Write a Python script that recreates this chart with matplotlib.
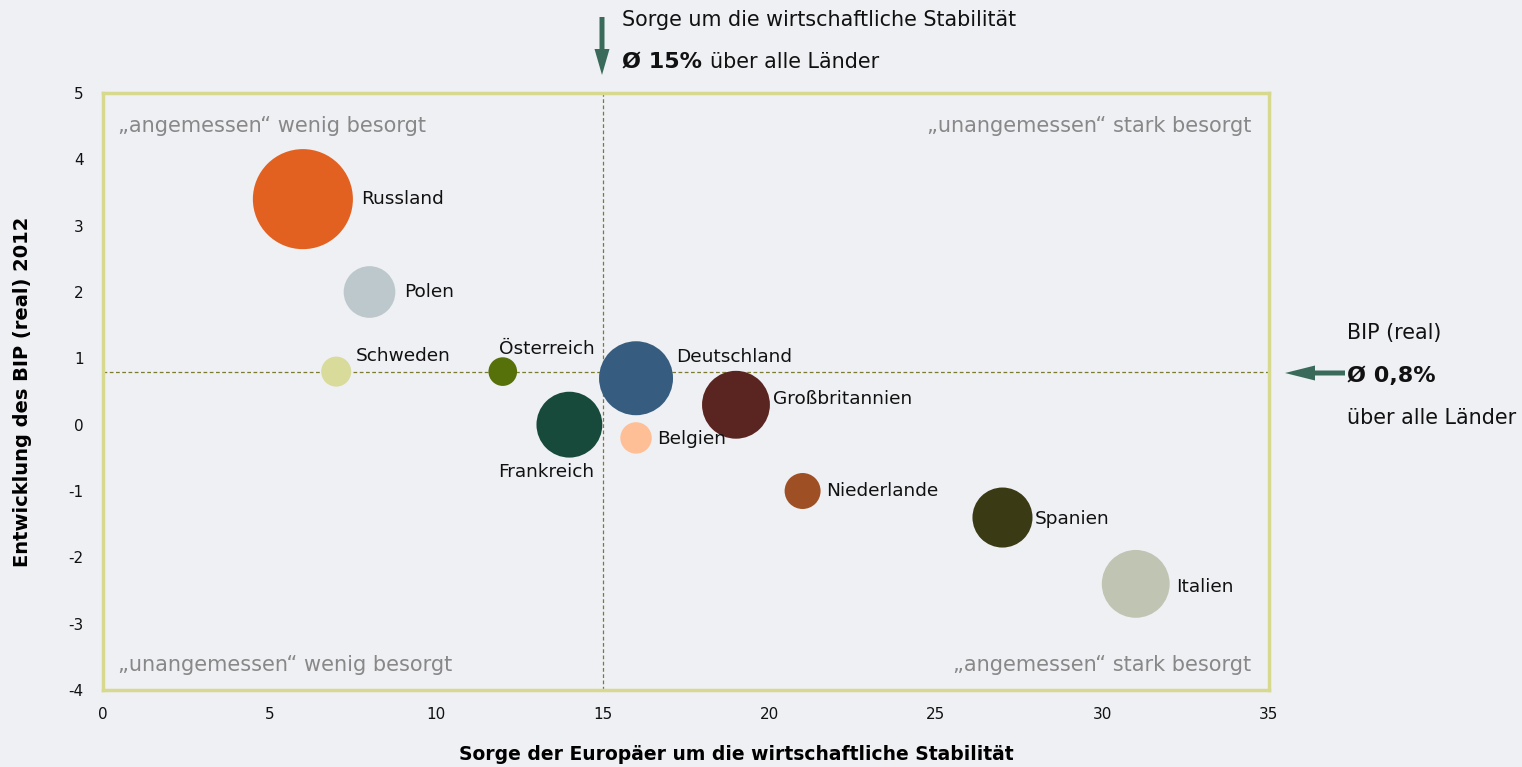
import matplotlib
matplotlib.use('Agg')
import matplotlib.pyplot as plt
from matplotlib.patches import FancyArrow

# Daten
laender = ['Russland', 'Polen', 'Schweden', 'Österreich', 'Frankreich', 'Deutschland',
           'Belgien', 'Großbritannien', 'Niederlande', 'Spanien', 'Italien']
sorge = [6, 8, 7, 12, 14, 16, 16, 19, 21, 27, 31]
bip = [3.4, 2.0, 0.8, 0.8, 0.0, 0.7, -0.2, 0.3, -1.0, -1.4, -2.4]
groesse = [150, 40, 13.5, 12.3, 65, 82, 14.8, 69, 19.4, 54, 69]
farben = ['#E26121', '#BCC8CC', '#D9DB9A', '#56700A', '#174A3A', '#365C80',
          '#FFBF96', '#5A2420', '#9E5024', '#3A3A14', '#BFC5B2']

avg_sorge = 15
avg_bip = 0.8

# Label-Versatz in Punkten (dx, dy, ha)
offsets = [(42, 0, 'left'), (25, 0, 'left'), (14, 11, 'left'), (32, 16, 'center'),
           (-17, -34, 'center'), (29, 15, 'left'), (15, -1, 'left'), (27, 4, 'left'),
           (17, 0, 'left'), (23, -1, 'left'), (29, -2, 'left')]

bg = '#EFF0F4'
rahmen = '#D6D98E'
pfeil = '#3A6B5A'
plt.rcParams['font.family'] = 'DejaVu Sans'
plt.rcParams['axes.unicode_minus'] = False

W, H = 1522, 767
fig = plt.figure(figsize=(W / 100, H / 100), dpi=100, facecolor=bg)
ax = fig.add_axes([103 / W, 1 - 690 / H, 1166 / W, 597 / H], facecolor=bg)

ax.scatter(sorge, bip, s=[g * 34.6 for g in groesse], c=farben, edgecolors='none', zorder=3)

ax.axvline(avg_sorge, color='#7A7A30', lw=0.9, ls=(0, (3, 2)), zorder=1)
ax.axhline(avg_bip, color='#7A7A30', lw=0.9, ls=(0, (3, 2)), zorder=1)

for name, x, y, (dx, dy, ha) in zip(laender, sorge, bip, offsets):
    ax.annotate(name, (x, y), xytext=(dx, dy), textcoords='offset points',
                ha=ha, va='center', fontsize=13.3, color='#111111', zorder=4)

ax.set_xlim(0, 35)
ax.set_ylim(-4, 5)
ax.set_xticks(range(0, 36, 5))
ax.set_yticks(range(-4, 6))
ax.tick_params(length=0, labelsize=11, colors='#111111')
ax.tick_params(axis='x', pad=12)
ax.tick_params(axis='y', pad=14)
for sp in ax.spines.values():
    sp.set_color(rahmen)
    sp.set_linewidth(2.5)

ax.set_xlabel('Sorge der Europäer um die wirtschaftliche Stabilität',
              fontsize=13.5, fontweight='bold', labelpad=17)
ax.xaxis.label.set_x(0.543)
ax.set_ylabel('Entwicklung des BIP (real) 2012', fontsize=14, fontweight='bold', labelpad=26)

# Quadranten
qc = '#888888'
qfs = 15
ax.text(0.013, 0.945, '„angemessen“ wenig besorgt', transform=ax.transAxes, fontsize=qfs,
        color=qc, ha='left', va='center')
ax.text(0.985, 0.945, '„unangemessen“ stark besorgt', transform=ax.transAxes, fontsize=qfs,
        color=qc, ha='right', va='center')
ax.text(0.013, 0.042, '„unangemessen“ wenig besorgt', transform=ax.transAxes, fontsize=qfs,
        color=qc, ha='left', va='center')
ax.text(0.985, 0.042, '„angemessen“ stark besorgt', transform=ax.transAxes, fontsize=qfs,
        color=qc, ha='right', va='center')

# Pfeile (in Pixeln der Figur)
fig.patches.append(FancyArrow(602, H - 17, 0, -58, width=5, head_width=15, head_length=26,
                              length_includes_head=True, color=pfeil, lw=0,
                              transform=None, figure=fig))
fig.patches.append(FancyArrow(1345, H - 373, -60, 0, width=5, head_width=15, head_length=30,
                              length_includes_head=True, color=pfeil, lw=0,
                              transform=None, figure=fig))

# Anmerkungen
fs = 14.9
fsb = 16
fig.text(622 / W, 1 - 20 / H, 'Sorge um die wirtschaftliche Stabilität', fontsize=fs,
         ha='left', va='center', color='#111111')
renderer = fig.canvas.get_renderer()
t = fig.text(622 / W, 1 - 62 / H, 'Ø 15%', fontsize=fsb, fontweight='bold',
             ha='left', va='center', color='#111111')
bb = t.get_window_extent(renderer)
fig.text((bb.x1 + 8) / W, 1 - 62 / H, 'über alle Länder', fontsize=fs,
         ha='left', va='center', color='#111111')

fig.text(1347 / W, 1 - 333 / H, 'BIP (real)', fontsize=fs, ha='left', va='center',
         color='#111111')
fig.text(1347 / W, 1 - 376 / H, 'Ø 0,8%', fontsize=fsb, fontweight='bold', ha='left',
         va='center', color='#111111')
fig.text(1347 / W, 1 - 418 / H, 'über alle Länder', fontsize=fs, ha='left',
         va='center', color='#111111')

fig.savefig('out.png', dpi=100, facecolor=bg)
